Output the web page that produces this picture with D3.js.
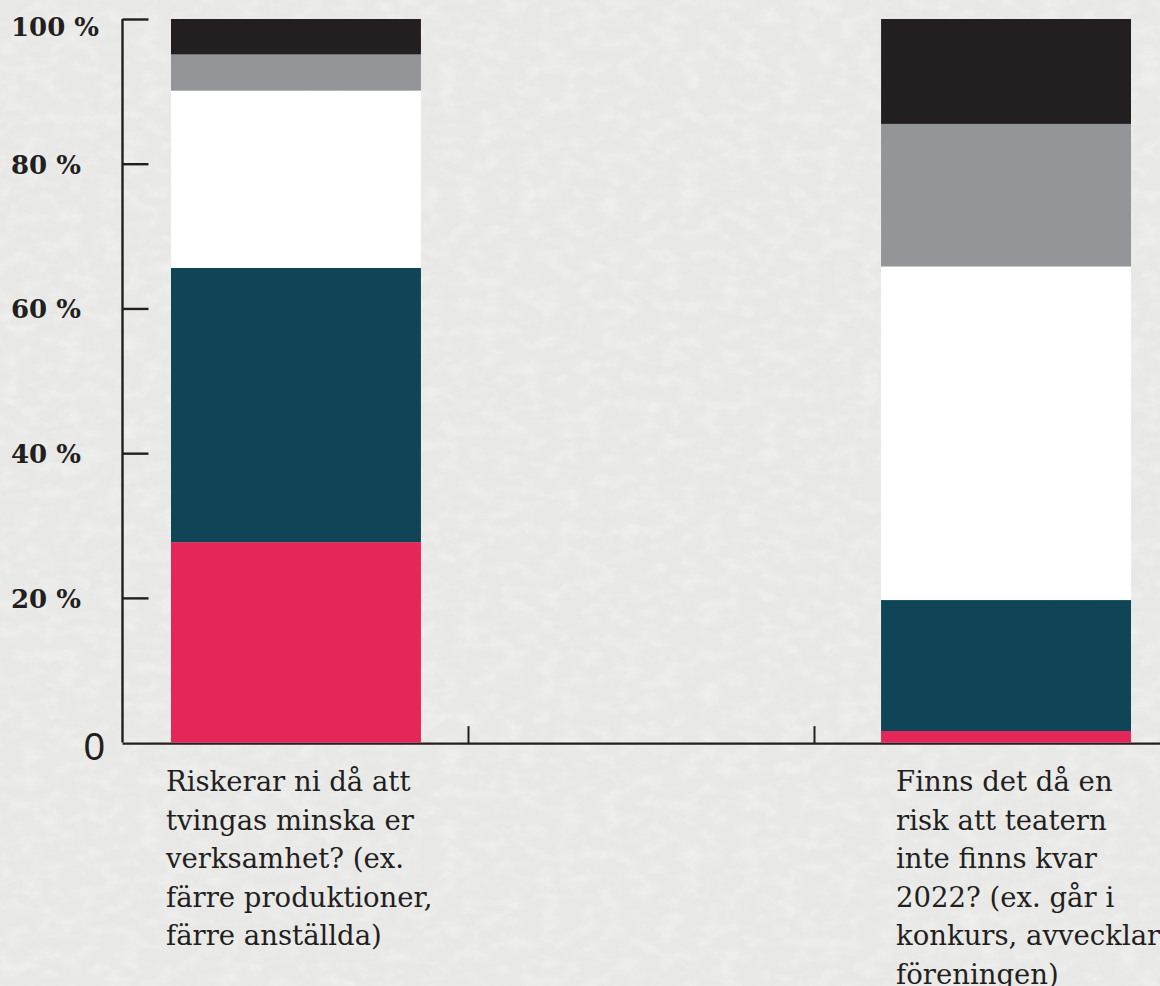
<!DOCTYPE html>
<html>
<head>
<meta charset="utf-8">
<script src="https://cdn.jsdelivr.net/npm/d3@7"></script>
<style>
  html, body { margin: 0; padding: 0; background: #e9e9e7; }
  svg { display: block; }
</style>
</head>
<body>
<script>
// ---- data ----
const categories = [
  ["Riskerar ni då att", "tvingas minska er", "verksamhet? (ex.", "färre produktioner,", "färre anställda)"],
  ["Finns det då en", "risk att teatern", "inte finns kvar", "2022? (ex. går i", "konkurs, avvecklar", "föreningen)"]
];
const categoryKeys = ["q1", "q2"];
const seriesKeys = ["s1", "s2", "s3", "s4", "s5"];
const seriesColors = ["#e42659", "#0f4556", "#ffffff", "#939598", "#231f20"];
const q1Values = [27.7, 37.9, 24.5, 5.0, 4.9];
const q2Values = [1.6, 18.1, 46.1, 19.7, 14.5];
const yTickValues = [0, 20, 40, 60, 80, 100];
const yTickLabels = ["0", "20 %", "40 %", "60 %", "80 %", "100 %"];
const xTickValues = [1, 2];

// ---- layout ----
const W = 1160, H = 986;
const svg = d3.select("body").append("svg").attr("width", W).attr("height", H);

// paper texture background
const defs = svg.append("defs");
const f = defs.append("filter").attr("id", "paper").attr("x", 0).attr("y", 0).attr("width", "100%").attr("height", "100%");
f.append("feTurbulence").attr("type", "fractalNoise").attr("baseFrequency", "0.05 0.08").attr("numOctaves", 3).attr("seed", 4).attr("result", "n");
f.append("feColorMatrix").attr("in", "n").attr("type", "matrix")
  .attr("values", "0 0 0 0 1  0 0 0 0 1  0 0 0 0 1  0 0 0 1.0 -0.42").attr("result", "w");
f.append("feComposite").attr("in", "w").attr("in2", "SourceGraphic").attr("operator", "in");
svg.append("rect").attr("width", W).attr("height", H).attr("fill", "#e8e8e6");
svg.append("rect").attr("width", W).attr("height", H).attr("fill", "#e8e8e6").attr("filter", "url(#paper)").attr("opacity", 0.7);

const y = d3.scaleLinear().domain([0, 100]).range([742.6, 19]);
const xAxisScale = d3.scaleLinear().domain([0, 3]).range([122, 1160]);
const x = d3.scaleBand().domain(categoryKeys).range([122, 1180]).paddingInner(0.648).paddingOuter(0.069);

// axes
const axisColor = "#231f20";
const yAxis = svg.append("g").attr("transform", "translate(122.5,0)")
  .call(d3.axisRight(y).tickValues(yTickValues.slice(1)).tickSize(26).tickFormat(""));
yAxis.select(".domain").attr("d", `M0,${y(100)}V${y(0)}`).attr("stroke", axisColor).attr("stroke-width", 2.4);
yAxis.selectAll(".tick line").attr("stroke", axisColor).attr("stroke-width", 2.4);

const xAxis = svg.append("g").attr("transform", `translate(0,${y(0) + 0.5})`)
  .call(d3.axisTop(xAxisScale).tickValues(xTickValues).tickSize(17).tickFormat("").tickSizeOuter(0));
xAxis.select(".domain").attr("stroke", axisColor).attr("stroke-width", 2.4);
xAxis.selectAll(".tick line").attr("stroke", axisColor).attr("stroke-width", 2);

// stacked bars
const rows = categoryKeys.map((k, i) => {
  const vals = [q1Values, q2Values][i];
  const o = { key: k };
  seriesKeys.forEach((s, j) => o[s] = vals[j]);
  return o;
});
const stacked = d3.stack().keys(seriesKeys)(rows);
const color = d3.scaleOrdinal().domain(seriesKeys).range(seriesColors);
svg.append("g").selectAll("g").data(stacked).join("g")
  .attr("fill", d => color(d.key))
  .selectAll("rect").data(d => d).join("rect")
  .attr("x", d => x(d.data.key))
  .attr("width", x.bandwidth())
  .attr("y", d => y(d[1]))
  .attr("height", d => y(d[0]) - y(d[1]));

// y tick labels
const labelY = v => v === 100 ? y(v) + 17 : y(v) + 10;
svg.append("g").selectAll("text").data(yTickValues.slice(1)).join("text")
  .attr("x", 11)
  .attr("y", d => labelY(d))
  .attr("font-family", "'DejaVu Serif', Georgia, serif")
  .attr("font-weight", "bold")
  .attr("font-size", 26)
  .attr("fill", "#231f20")
  .text(d => yTickLabels[yTickValues.indexOf(d)]);

svg.append("text")
  .attr("x", 105).attr("y", y(0) + 17)
  .attr("text-anchor", "end")
  .attr("font-family", "'Liberation Sans', Arial, sans-serif")
  .attr("font-size", 38)
  .attr("fill", "#231f20")
  .text(yTickLabels[0]);

// category labels
const labelOffsets = [-5, 15];
categoryKeys.forEach((k, i) => {
  const lx = x(k) + labelOffsets[i];
  const t = svg.append("text")
    .attr("x", lx)
    .attr("y", 791)
    .attr("font-family", "'DejaVu Serif', Georgia, serif")
    .attr("font-size", 27.5)
    .attr("fill", "#231f20");
  categories[i].forEach((line, li) => {
    t.append("tspan").attr("x", lx).attr("dy", li === 0 ? 0 : 38.6).text(line);
  });
});
</script>
</body>
</html>
